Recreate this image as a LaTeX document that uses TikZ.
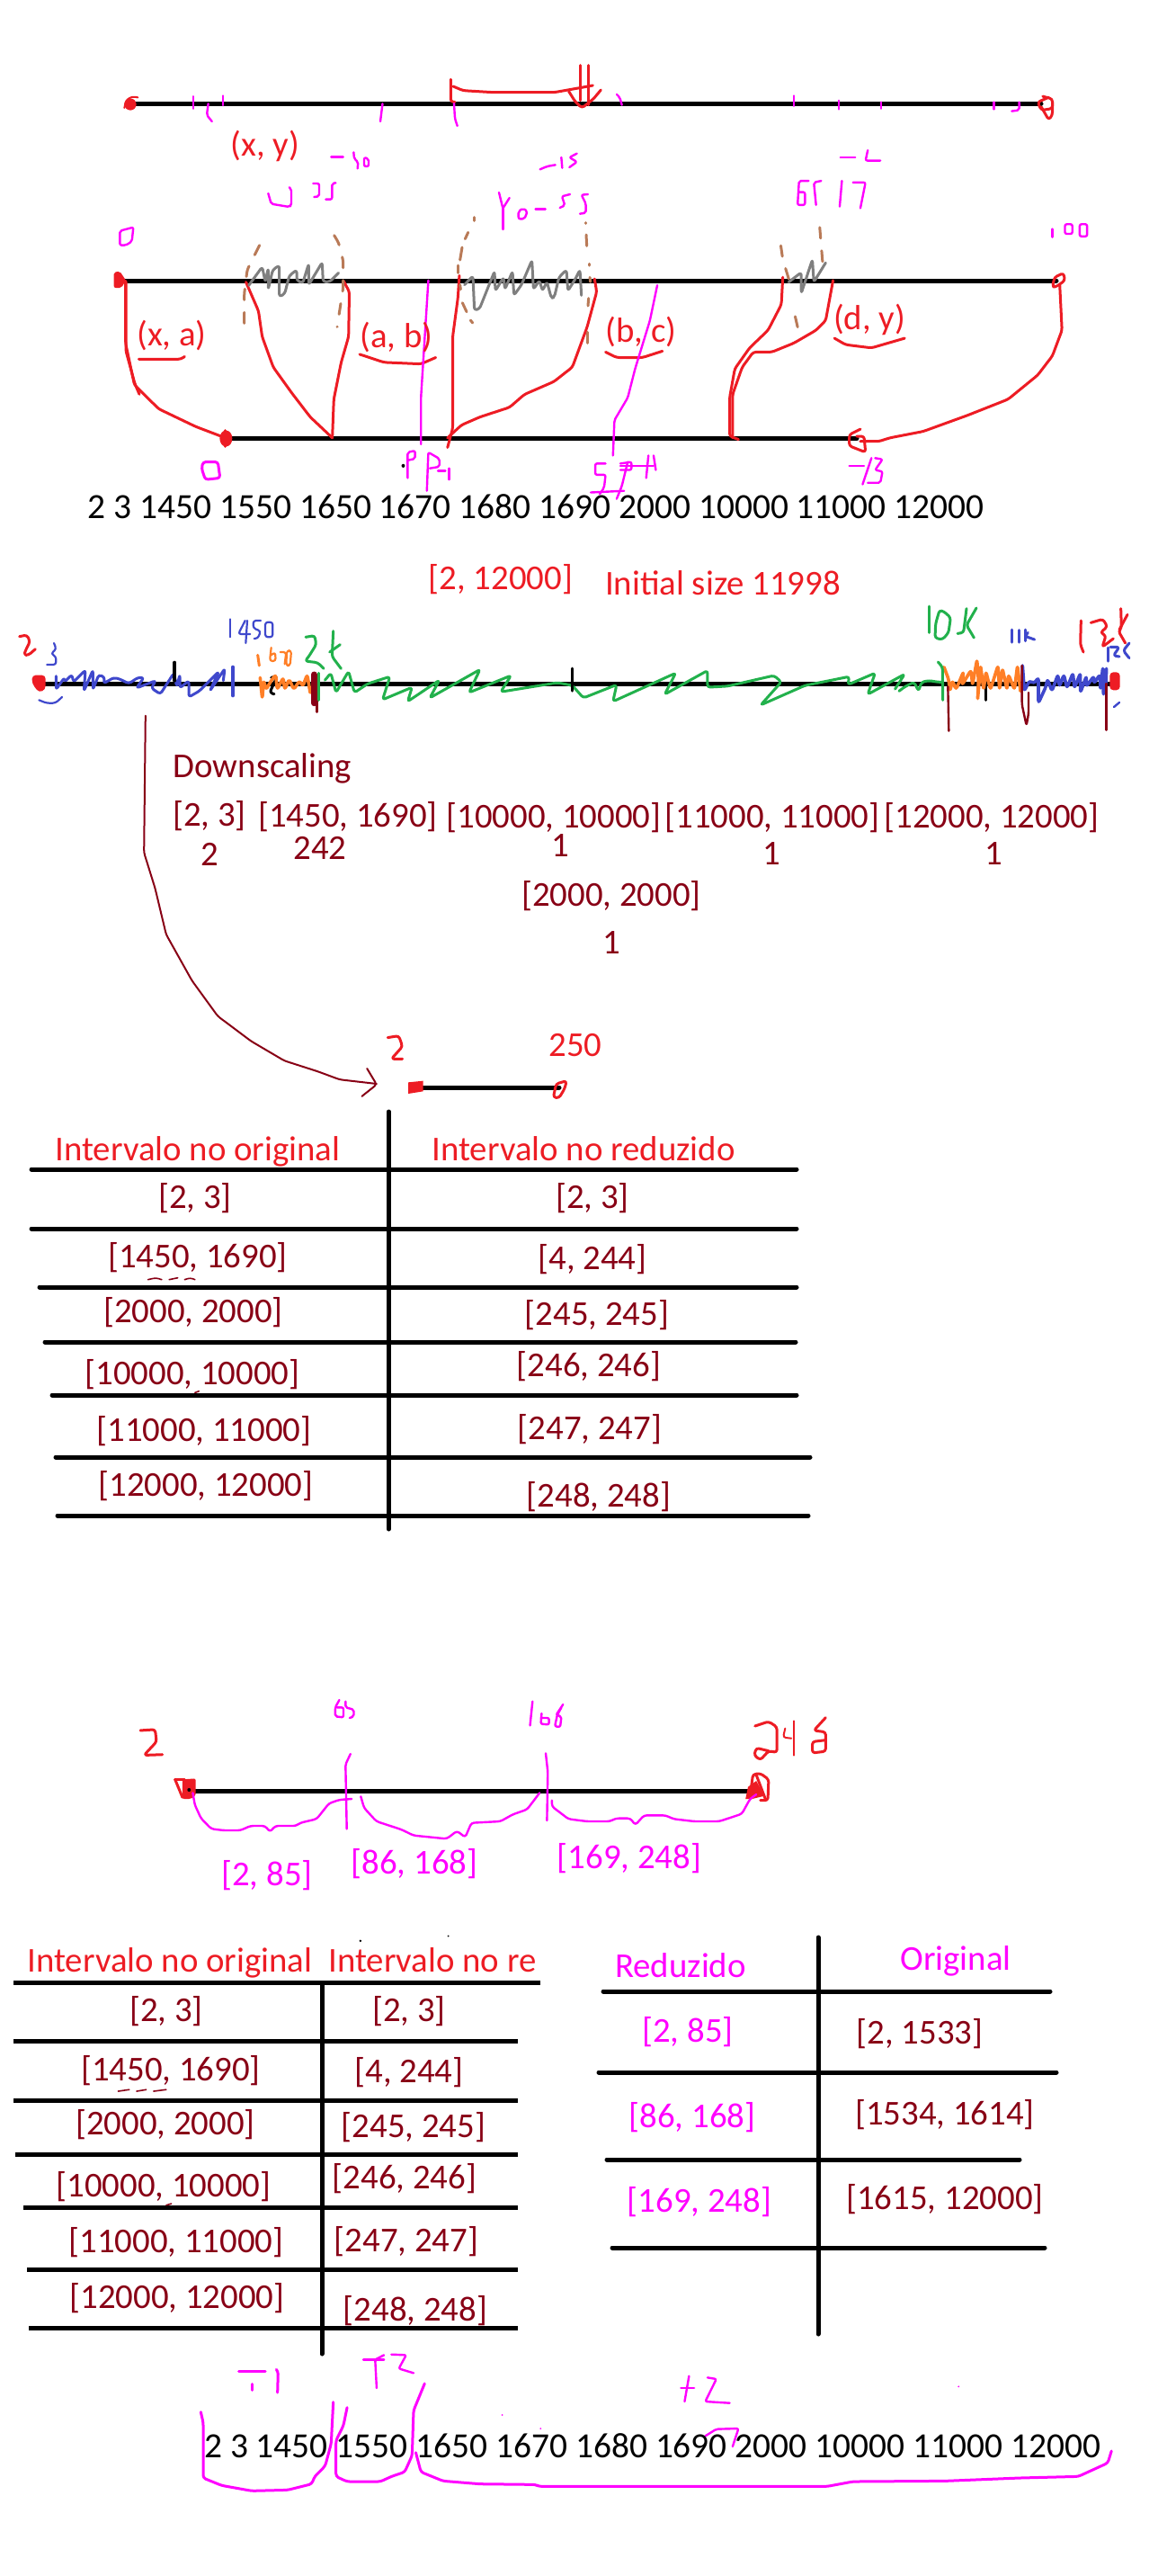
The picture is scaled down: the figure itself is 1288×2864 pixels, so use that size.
\documentclass[tikz,border=0pt]{standalone}
\usepackage{fontspec}
\setmainfont{Carlito}
\definecolor{pred}{HTML}{ED1C24}
\definecolor{pdark}{HTML}{880015}
\definecolor{pmag}{HTML}{FF00FF}
\definecolor{porange}{HTML}{FF7F27}
\definecolor{pgreen}{HTML}{22B14C}
\definecolor{pblue}{HTML}{3F48CC}
\definecolor{pbrown}{HTML}{B97A57}
\definecolor{pgray}{HTML}{7F7F7F}
\tikzset{
  px/.style={x=0.5pt,y=-0.5pt},
  za/.style={x=0.41071pt,y=-0.17857pt,yshift=-30pt},
  zb/.style={x=0.41071pt,y=-0.19771pt,yshift=-300pt},
  zc/.style={x=0.31888pt,y=-0.16667pt,yshift=-600pt},
  zd/.style={x=0.41071pt,y=-0.17857pt,yshift=-920pt},
  ze/.style={x=0.41071pt,y=-0.16667pt,yshift=-1190pt},
  zr/.style={x=0.22957pt,y=-0.16667pt,xshift=90pt,yshift=-945pt},
  zs/.style={x=0.16667pt,y=-0.16667pt},
  ink/.style={line cap=round,line join=round,line width=1.5pt,rounded corners=1.5pt},
  rd/.style={ink,draw=pred},
  mg/.style={ink,draw=pmag},
  mgt/.style={ink,draw=pmag,line width=1.2pt,rounded corners=1pt},
  bl/.style={ink,draw=pblue},
  gn/.style={ink,draw=pgreen},
  og/.style={ink,draw=porange},
  dk/.style={ink,draw=pdark},
  gy/.style={ink,draw=pgray},
  br/.style={ink,draw=pbrown,dash pattern=on 6pt off 7pt},
  rule/.style={line width=2.5pt,draw=black,line cap=round},
  lab/.style={anchor=base,inner sep=0pt,font=\fontsize{19.4}{22}\selectfont},
  tred/.style={lab,text=pred},
  tdk/.style={lab,text=pdark},
  tmg/.style={lab,text=pmag},
  tbk/.style={lab,text=black,font=\fontsize{19.7}{22}\selectfont},
}
\begin{document}
\begin{tikzpicture}[px]
\useasboundingbox (0,0) rectangle (1288,2864);
% ---------- main bars and table rules
\coordinate (a1) at (146,115); \coordinate (a2) at (1158,115);
\coordinate (b1) at (131,312); \coordinate (b2) at (1175,312);
\coordinate (c1) at (251,487.5); \coordinate (c2) at (953,487.5);
\coordinate (d1) at (43,760); \coordinate (d2) at (1240,760);
\coordinate (e1) at (459,1209); \coordinate (e2) at (622,1209);
\coordinate (f1) at (209,1991); \coordinate (f2) at (838,1991);
\draw[rule] (a1)--(a2); \draw[rule] (b1)--(b2); \draw[rule] (c1)--(c2);
\draw[rule] (d1)--(d2); \draw[rule] (e1)--(e2); \draw[rule] (f1)--(f2);
% table 1
\foreach \xa/\xb/\yy in {35/886/1300,35/886/1366,44/886/1431,50/885/1492,58/886/1551,62/901/1620,64/899/1685}
  \draw[rule] (\xa,\yy)--(\xb,\yy);
\draw[rule] (432.3,1236)--(432.3,1700);
% table 2
\draw[rule,line cap=butt] (15,2204)--(601,2204);
\foreach \xa/\yy in {15/2269,15/2335,17/2395,26/2454,30/2523,32/2588}
  \draw[rule,line cap=butt] (\xa,\yy)--(576,\yy);
\draw[rule] (358,2206)--(358,2617);
% table 3
\foreach \xa/\xb/\yy in {671/1168/2214,666/1175/2304,675/1134/2401,681/1162/2499}
  \draw[rule] (\xa,\yy)--(\xb,\yy);
\draw[rule] (910,2154)--(910,2595);

% ---------- first sketch (zoom A coordinates)
\begin{scope}[za]
\draw[rd] (1420,135)--(1405,150)--(1410,175)--(1425,170)--(1425,140)--(1412,132);
\draw[rd] (1410,165)--(1420,205)--(1425,190)--(1425,150);
\foreach \xa/\ya/\yb in {262/132/170,302/130/160,1075/130/162,1136/145/172,1193/150/170,1346/150/172}
  \draw[mgt] (\xa,\ya)--(\xa,\yb);
\draw[mgt] (282,155)--(280,190)--(287,210);
\draw[mgt] (518,155)--(515,210);
\draw[mgt] (1380,150)--(1380,175)--(1370,178);
% curves
\draw[rd] (333,710)--(350,800)--(355,880)--(370,975)--(395,1055)--(420,1130)--(450,1195);
\draw[rd] (465,706)--(473,740)--(472,880)--(462,960)--(452,1075)--(450,1195);
\draw[rd] (622,690)--(620,760)--(613,880)--(613,1165)--(606,1225);
\draw[rd] (805,700)--(808,740)--(795,850)--(775,975)--(750,1020)--(710,1060)--(690,1100)--(650,1130)--(625,1155)--(606,1195);
\draw[rd] (1060,695)--(1058,780)--(1040,860)--(1015,915)--(995,980)--(988,1070)--(988,1190)--(1000,1200);
\draw[rd] (1128,705)--(1118,830)--(1105,860)--(1075,900)--(1045,928)--(1020,928)--(1005,975)--(992,1060)--(992,1195);
\draw[rd] (1435,720)--(1438,860)--(1425,940)--(1405,1000)--(1365,1075)--(1310,1125)--(1250,1175)--(1205,1195)--(1190,1206)--(1165,1206);
\draw[rd] (170,706)--(170,900)--(182,1030)--(215,1105)--(265,1160)--(305,1195);
\draw[rd] (1425,725)--(1428,695)--(1440,682)--(1442,705)--(1430,725)--cycle;
\fill[pred] (306,1197) ellipse[x radius=3.5pt,y radius=4.5pt];
\draw[rd,line width=1.4pt] (305,1172)--(305,1222);
\draw[rd] (1165,1168)--(1150,1185)--(1150,1220)--(1172,1240)--(1170,1190)--(1160,1190);
\draw[rd] (188,950)--(245,950)--(250,942);
\draw[rd] (487,935)--(520,960)--(570,965)--(590,945);
\draw[rd] (820,928)--(835,945)--(870,945)--(897,925);
\draw[rd] (1130,885)--(1145,905)--(1180,915)--(1225,885);
% magenta long strokes
\draw[mgt] (580,705)--(570,1070)--(570,1215);
\draw[mgt] (890,720)--(880,830)--(860,980)--(850,1070)--(832,1140)--(830,1250);
% handwritten magenta labels
\draw[mgt] (1095,395)--(1082,395)--(1080,470)--(1090,470)--(1090,430)--(1082,430);
\draw[mgt] (1112,395)--(1102,400)--(1105,470); \draw[mgt] (1140,395)--(1137,475);
\draw[mgt] (1155,400)--(1172,400)--(1165,480);
\draw[mgt] (1138,322)--(1158,322); \draw[mgt] (1175,300)--(1172,332)--(1192,332);
\draw[mgt] (1425,545)--(1425,570); \draw[mgt] (1442,530)--(1442,560)--(1452,560)--(1452,530)--cycle;
\draw[mgt] (1462,530)--(1462,568)--(1472,568)--(1472,530)--cycle;
\draw[mg] (275,1270)--(295,1270)--(298,1320)--(278,1325)--(273,1290)--cycle;
\draw[mgt] (552,1320)--(552,1240)--(562,1235)--(562,1260)--(552,1265);
\fill (546,1282) circle[radius=1pt];
\draw[mgt] (578,1360)--(580,1240)--(595,1260)--(595,1285)--(582,1290);
\draw[mgt] (593,1298)--(603,1298); \draw[mgt] (608,1290)--(608,1325);
\draw[mgt] (820,1275)--(806,1275)--(806,1310)--(820,1310)--(818,1350)--(812,1370);
\draw[mgt] (800,1365)--(845,1360); \draw[mgt] (850,1270)--(842,1345)--(835,1385);
\draw[mgt] (840,1275)--(855,1270)--(855,1295)--(840,1295); \draw[mgt] (840,1282)--(885,1282);
\draw[mgt] (875,1320)--(878,1250); \draw[mgt] (885,1250)--(888,1295);
\draw[mgt] (1150,1282)--(1170,1282); \draw[mgt] (1180,1258)--(1168,1340);
\draw[mgt] (1185,1258)--(1195,1262)--(1185,1295)--(1195,1300)--(1192,1335)--(1175,1335);
% brown and gray clusters
\draw[br] (795,900)--(795,860);
\draw[br] (1080,850)--(1075,800); \draw[br] (1068,700)--(1060,640)--(1055,560);
\draw[br] (1110,540)--(1115,680);
\draw[gy] (1068,710)--(1085,680)--(1085,745)--(1100,640)--(1102,710)--(1118,650);
\end{scope}
% bracket, tick marks and cluster at the middle of the first sketch
\begin{scope}[zs,xshift=240pt,yshift=-30pt]
\draw[rd] (64,85)--(64,160)--(78,160);
\draw[rd] (72,108)--(105,122)--(205,128)--(410,128)--(500,112)--(538,105);
\draw[rd] (496,38)--(496,155); \draw[rd] (523,38)--(523,170);
\draw[rd] (458,125)--(480,160)--(502,180)--(540,150)--(565,120);
\draw[mgt] (75,165)--(78,215)--(86,240);
\draw[mgt] (618,135)--(628,145)--(635,170);
\draw[mgt] (362,385)--(385,375)--(413,370); \draw[mgt] (433,345)--(436,380);
\draw[mgt] (485,332)--(460,345)--(485,360)--(460,378);
\draw[mgt] (225,462)--(238,515)--(260,480); \draw[mgt] (238,515)--(238,585);
\draw[mgt] (305,515)--(290,525)--(290,550)--(310,550)--(320,525)--cycle;
\draw[mgt] (347,518)--(380,518);
\draw[mgt] (462,468)--(435,475)--(440,490)--(445,505)--(428,513);
\draw[mgt] (522,468)--(500,470)--(515,500)--(515,530)--(495,533);
\foreach \xa/\ya/\xb/\yb in {143/545/143/556,122/595/112/617,102/645/95/687,89/705/89/730,95/770/97/785,103/830/117/860,130/888/137/897,513/563/513/565,516/603/518/640,526/700/526/705,528/745/530/760,524/815/522/840}
  \draw[ink,draw=pbrown] (\xa,\ya)--(\xb,\yb);
\draw[gy] (110,770)--(138,740)--(143,855)--(160,850)--(210,725)--(213,790)--(240,745)--(245,785)--(270,725)--(275,805)--(300,770)--(335,688)--(340,785)--(360,755)--(370,790)--(385,760)--(400,815)--(410,810)--(425,745)--(450,720)--(455,790)--(480,750)--(495,720)--(500,805);
\end{scope}
% details in finer coordinates
\begin{scope}[zs,xshift=50pt,yshift=-40pt]
\fill[pred] (135,108) circle[radius=3.3pt];
\draw[rd,line width=1pt] (115,120)--(120,95)--(140,82)--(160,85);
\fill[pred,rounded corners=1pt] (80,668)--(100,665)--(120,695)--(105,720)--(80,720)--cycle;
\draw[rd] (120,700)--(120,930)--(150,1040)--(165,1075);
\draw[br] (515,838)--(515,740)--(525,660)--(550,610)--(575,560);
\draw[br] (815,545)--(830,570)--(845,630)--(845,720)--(825,850);
\draw[gy] (530,712)--(575,650)--(585,700)--(595,655)--(595,725)--(610,660)--(632,645)--(632,750)--(650,740)--(665,680)--(690,660)--(690,695)--(710,705)--(730,640)--(730,710)--(775,635)--(778,700)--(800,700)--(830,670);
\draw[mgt] (805,283)--(845,283);
\draw[mgt] (880,268)--(882,290)--(895,300)--(893,322);
\draw[mgt] (915,285)--(915,315)--(930,315)--(930,290)--cycle;
\draw[mgt] (595,405)--(605,440)--(665,450)--(672,445)--(672,390)--(665,385);
\draw[mgt] (745,372)--(765,372)--(765,415)--(748,417);
\draw[mgt] (820,370)--(808,372)--(808,425)--(787,425);
\draw[mgt] (100,530)--(145,518)--(140,565)--(120,578)--(100,578)--cycle;
\end{scope}

% ---------- second sketch (zoom B coordinates)
\begin{scope}[zb]
\draw[gn] (440,395)--(448,375)--(455,430)--(472,370)--(480,430)--(498,405)--(528,385)--(518,450)--(558,415)--(552,455)--(595,395)--(582,445)--(650,365)--(635,430)--(692,382)--(678,428)--(755,402)--(775,410)--(790,445)--(835,408)--(830,455)--(915,375)--(900,435)--(958,368)--(958,415)--(985,412)--(1048,382)--(1058,400)--(1030,465)--(1090,410)--(1150,385)--(1148,408)--(1185,375)--(1175,435)--(1225,378)--(1212,420);
\draw[ink,draw=black] (775,362)--(775,425);
% long arrow
\draw[dk,line width=1pt] (197,495)--(195,880)--(210,980)--(225,1110)--(260,1240)--(295,1340)--(340,1410)--(385,1465)--(430,1495)--(460,1518)--(510,1530);
\draw[dk,line width=1pt] (497,1487)--(510,1532)--(490,1565);
\draw[rd] (525,1400)--(540,1395)--(545,1425)--(530,1460)--(545,1460);
\end{scope}
% right end of the second sketch
\begin{scope}[zs,xshift=500pt,yshift=-330pt]
\draw[gn] (0,325)--(20,310)--(50,295)--(65,325)--(75,295)--(100,290)--(130,295)--(145,295);
\draw[ink,draw=black] (290,285)--(290,355);
\draw[og,line width=1.8pt] (150,245)--(165,285)--(170,325)--(178,290)--(190,320)--(215,260)--(210,305)--(240,255)--(245,305)--(260,220)--(265,290)--(262,355)--(272,240)--(282,320)--(290,260)--(305,320)--(330,240)--(335,320)--(345,250)--(360,320)--(365,270)--(385,320)--(395,240)--(405,325);
\draw[gn] (130,228)--(145,245)--(146,355);
\draw[dk,line width=1.2pt] (163,310)--(166,458);
\draw[bl,line width=1.8pt] (412,240)--(418,325)--(435,290)--(450,300)--(465,280)--(465,365)--(490,310)--(495,285)--(510,325)--(530,270)--(535,310)--(550,270)--(560,315)--(580,265)--(585,315)--(605,265)--(605,330)--(625,275)--(625,310)--(650,275)--(650,300)--(670,270)--(672,320)--(680,245)--(682,340)--(692,245)--(690,310);
\draw[dk,line width=1.2pt] (410,240)--(410,370)--(425,440)--(432,400)--(432,330);
\draw[dk,line width=1.2pt] (692,300)--(692,455);
\fill[pred,rounded corners=2pt] (703,262) rectangle (737,322);
\draw[bl,line width=1.2pt] (717,378)--(735,363);
\draw[gn] (100,42)--(100,130);
\draw[gn] (135,55)--(122,100)--(120,148)--(145,153)--(165,130)--(172,80)--(150,60)--cycle;
\draw[gn] (225,50)--(215,130)--(195,133); \draw[gn] (258,48)--(225,105)--(250,147);
\draw[bl] (377,120)--(377,162); \draw[bl] (400,122)--(400,162);
\draw[bl] (420,120)--(420,158); \draw[bl] (430,130)--(420,142)--(452,153);
\draw[rd] (607,90)--(605,170)--(615,195);
\draw[rd] (640,97)--(680,85)--(695,110)--(672,130)--(690,140)--(678,178)--(715,150);
\draw[rd] (740,50)--(742,115)--(732,125)--(755,165); \draw[rd] (762,70)--(735,120);
\draw[bl] (697,180)--(697,225); \draw[bl] (705,178)--(735,178)--(715,207)--(735,210);
\draw[bl] (768,165)--(748,190)--(768,215);
\end{scope}
\begin{scope}[zs,yshift=-330pt]
\fill[pred,rounded corners=2pt] (107,272)--(152,272)--(152,320)--(130,330)--(107,300)--cycle;
\draw[bl] (187,275)--(187,320)--(215,280)--(215,295)--(240,270)--(245,295)--(285,255)--(280,325)--(310,255)--(310,320)--(330,270)--(350,280)--(345,300)--(380,280)--(400,285)--(430,300)--(460,280)--(480,280)--(455,315)--(520,290)--(505,315)--(535,335)--(580,265)--(590,310)--(600,270)--(600,315)--(630,290)--(630,345)--(665,325)--(730,260)--(700,325)--(750,250)--(745,290);
\draw[ink,draw=pblue,line width=2pt] (777,245)--(777,340);
\draw[bl,line width=1.1pt] (180,165)--(188,185)--(170,200)--(187,210)--(187,237)--(157,237);
\draw[bl,line width=1.1pt] (130,355)--(155,365)--(185,365)--(207,345);
\draw[bl,line width=1.1pt] (768,85)--(768,145);
\draw[bl,line width=1.1pt] (818,90)--(795,135)--(835,135); \draw[bl,line width=1.1pt] (825,90)--(820,165);
\draw[bl,line width=1.1pt] (870,90)--(845,90)--(845,115)--(870,125)--(860,150)--(848,150);
\draw[bl,line width=1.1pt] (885,95)--(910,95)--(910,145)--(885,145)--cycle;
\draw[rd] (65,143)--(90,138)--(100,160)--(85,190)--(80,205)--(95,205)--(118,185);
\draw[ink,draw=black,line width=2pt] (583,230)--(583,290);
\draw[ink,draw=black] (905,280)--(925,275)--(900,330)--(915,335);
\draw[og] (860,205)--(865,240);
\draw[og,line width=1.1pt] (905,180)--(900,225)--(920,225)--(918,195)--(905,205);
\draw[og,line width=1.1pt] (935,195)--(955,195)--(950,235);
\draw[og,line width=1.1pt] (957,190)--(972,190)--(968,240)--(955,240)--cycle;
\draw[og,line width=1.8pt] (868,280)--(875,350)--(880,290)--(888,320)--(905,290)--(920,270)--(925,320)--(945,280)--(950,320)--(965,285)--(980,320)--(1000,290)--(1010,310)--(1025,270)--(1035,330);
\draw[ink,draw=pdark,line width=3.5pt] (1048,270)--(1048,365);
\draw[ink,draw=pdark,line width=1.2pt] (1058,320)--(1058,395);
\draw[gn] (1062,265)--(1062,355);
\draw[gn] (1020,145)--(1050,140)--(1055,170)--(1030,210)--(1018,225)--(1060,230)--(1080,250);
\draw[gn] (1112,125)--(1108,210)--(1138,250); \draw[gn] (1135,170)--(1100,195);
\end{scope}

% ---------- small line ends and table fragments (zoom C coordinates)
\begin{scope}[zc]
\fill[pred] (712,10)--(738,5)--(738,40)--(712,48)--cycle;
\draw[rd] (965,60)--(970,15)--(988,5)--(985,30)--(975,62)--cycle;
\draw[dk,line width=0.8pt] (258,668)--(272,662)--(282,668);
\draw[dk,line width=0.8pt] (295,668)--(310,662);
\draw[dk,line width=0.8pt] (322,668)--(332,662)--(340,668);
\draw[dk,line width=0.8pt] (340,1045)--(347,1040);
\end{scope}

% ---------- third sketch
\begin{scope}[zd]
\draw[rd] (190,235)--(210,232)--(212,270)--(195,312)--(220,310);
\draw[rd] (1118,195)--(1102,235)--(1118,240)--(1118,300)--(1100,305)--(1100,270)--(1118,265);
\draw[dk,line width=0.8pt] (160,1358)--(175,1353); \draw[dk,line width=0.8pt] (185,1358)--(198,1353);
\draw[dk,line width=0.8pt] (208,1358)--(225,1353);
\fill (488,890) circle[radius=0.7pt]; \fill (607,875) circle[radius=0.5pt];
\end{scope}
\begin{scope}[zr]
\fill[pred,rounded corners=1pt] (50,265)--(82,262)--(82,320)--(70,330)--(50,330)--cycle;
\draw[rd] (32,265)--(50,325);
\draw[rd] (32,265)--(55,265);
\fill (66,300) circle[radius=1pt];
\fill[pred] (1420,290)--(1440,270)--(1460,320)--(1430,330)--(1414,330)--cycle;
\draw[rd] (1428,290)--(1432,248)--(1450,245)--(1470,265)--(1468,335)--(1450,335);
\draw[rd] (1440,250)--(1462,330);
\draw[mg,line width=1.2pt] (75,310)--(80,350)--(95,395)--(120,430)--(150,435)--(190,435)--(215,420)--(250,420)--(262,440)--(275,420)--(325,420)--(335,410)--(375,397)--(405,345)--(430,333)--(460,330);
\draw[mgt] (457,180)--(445,215)--(448,430);
\draw[mg,line width=1.2pt] (482,322)--(490,360)--(520,405)--(580,432)--(610,452)--(690,463)--(715,437)--(735,458)--(750,410)--(820,405)--(850,382)--(885,365)--(915,310);
\draw[mgt] (930,178)--(935,240)--(933,402);
\draw[mg,line width=1.2pt] (945,335)--(945,355)--(985,397)--(1030,405)--(1085,405)--(1100,395)--(1135,395)--(1147,417)--(1168,385)--(1220,385)--(1240,397)--(1290,405)--(1350,405)--(1405,380)--(1425,330)--(1440,315);
\draw[mgt] (430,0)--(420,25)--(420,55)--(440,58)--(440,25)--(425,25);
\draw[mgt] (445,5)--(445,25)--(465,32)--(465,55)--(455,60);
\draw[mgt] (898,5)--(892,85);
\draw[mgt] (920,45)--(918,80)--(938,82)--(938,60)--(918,60);
\draw[mgt] (972,15)--(955,50)--(968,55)--(965,90)--(952,88)--(958,50)--(968,25);
\draw[rd] (1437,87)--(1470,72)--(1490,90)--(1490,175)--(1470,170)--(1450,200)--(1435,185)--(1440,160)--(1470,170);
\draw[rd,line width=1pt] (1510,95)--(1505,125)--(1525,128);
\draw[rd,line width=1pt] (1532,70)--(1532,185);
\end{scope}

% ---------- bottom row braces
\begin{scope}[ze]
\draw[mg] (470,890)--(465,950)--(455,1000)--(455,1120)--(470,1137)--(515,1137)--(530,1120)--(548,1105)--(558,1050)--(560,900)--(575,810);
\draw[mg] (563,1040)--(570,1105)--(600,1135)--(650,1145)--(725,1147)--(730,1153)--(1120,1153)--(1155,1137)--(1280,1135)--(1380,1125)--(1460,1120)--(1500,1075)--(1505,1035);
\draw[mgt] (492,730)--(520,730); \draw[mgt] (520,715)--(508,730)--(510,825);
\draw[mgt] (530,713)--(550,715)--(540,760)--(560,775);
\draw[mgt] (922,825)--(940,825); \draw[mgt] (933,785)--(927,870);
\draw[mgt] (958,790)--(970,795)--(955,870)--(988,875);
\draw[mgt] (955,985)--(970,962)--(1000,960)--(992,1020);
\fill[pmag] (680,915) circle[radius=.5pt]; \fill[pmag] (732,960) circle[radius=.5pt]; \fill[pmag] (1298,820) circle[radius=.5pt];
\end{scope}
\begin{scope}[zs,yshift=-1200pt]
\draw[mg] (670,845)--(678,880)--(678,1065)--(740,1090)--(840,1108)--(960,1105)--(1040,1085)--(1050,1060)--(1085,1025)--(1105,950)--(1112,812);
\draw[mg] (797,708)--(885,708); \draw[mg] (841,752)--(841,772); \draw[mg] (922,703)--(928,710)--(926,780);
\draw[dk,line width=0.8pt] (555,155)--(572,150);
\end{scope}

% ---------- texts
\node[tred] (t01) at (295,173) {(x, y)};
\node[tred] (t02) at (191,384) {(x, a)};
\node[tred] (t03) at (441,386) {(a, b)};
\node[tred] (t04) at (713,380) {(b, c)};
\node[tred] (t05) at (967,366) {(d, y)};
\node[tbk]  (t06) at (596,576) {2 3 1450 1550 1650 1670 1680 1690 2000 10000 11000 12000};
\node[tred] (t07) at (557,655) {[2, 12000]};
\node[tred] (t08) at (804,661) {Initial size 11998};
\node[tdk]  (t09) at (292,864) {Downscaling};
\node[tdk]  (t10) at (233,918) {[2, 3]};
\node[tdk]  (t11) at (387,919) {[1450, 1690]};
\node[tdk]  (t12) at (616,920) {[10000, 10000]};
\node[tdk]  (t13) at (859,920) {[11000, 11000]};
\node[tdk]  (t14) at (1103,920) {[12000, 12000]};
\node[tdk]  (t15) at (233,962) {2};
\node[tdk]  (t16) at (356,955) {242};
\node[tdk]  (t17) at (623,952) {1};
\node[tdk]  (t18) at (858,961) {1};
\node[tdk]  (t19) at (1105,961) {1};
\node[tdk]  (t20) at (680,1007) {[2000, 2000]};
\node[tdk]  (t21) at (680,1060) {1};
\node[tred] (t22) at (640,1174) {250};
% table 1 texts
\node[tred] (u01) at (220,1290) {Intervalo no original};
\node[tred] (u02) at (649,1290) {Intervalo no reduzido};
\node[tdk] (u03) at (217,1343) {[2, 3]};
\node[tdk] (u04) at (220,1409) {[1450, 1690]};
\node[tdk] (u05) at (215,1470) {[2000, 2000]};
\node[tdk] (u06) at (214,1539) {[10000, 10000]};
\node[tdk] (u07) at (227,1602) {[11000, 11000]};
\node[tdk] (u08) at (229,1663) {[12000, 12000]};
\node[tdk] (u09) at (659,1343) {[2, 3]};
\node[tdk] (u10) at (659,1411) {[4, 244]};
\node[tdk] (u11) at (664,1473) {[245, 245]};
\node[tdk] (u12) at (655,1530) {[246, 246]};
\node[tdk] (u13) at (656,1600) {[247, 247]};
\node[tdk] (u14) at (666,1675) {[248, 248]};
% third sketch labels
\node[tmg] (v01) at (297,2096) {[2, 85]};
\node[tmg] (v02) at (461,2083) {[86, 168]};
\node[tmg] (v03) at (700,2077) {[169, 248]};
% table 2 texts
\node[tred] (w01) at (189,2192) {Intervalo no original};
\node[tred,anchor=base west] (w02) at (365,2192) {Intervalo no re};
\node[tdk] (w03) at (185,2247) {[2, 3]};
\node[tdk] (w04) at (190,2313) {[1450, 1690]};
\node[tdk] (w05) at (184,2373) {[2000, 2000]};
\node[tdk] (w06) at (182,2442) {[10000, 10000]};
\node[tdk] (w07) at (196,2504) {[11000, 11000]};
\node[tdk] (w08) at (197,2566) {[12000, 12000]};
\node[tdk] (w09) at (455,2247) {[2, 3]};
\node[tdk] (w10) at (455,2315) {[4, 244]};
\node[tdk] (w11) at (460,2376) {[245, 245]};
\node[tdk] (w12) at (450,2433) {[246, 246]};
\node[tdk] (w13) at (452,2503) {[247, 247]};
\node[tdk] (w14) at (462,2580) {[248, 248]};
% table 3 texts
\node[tmg] (y01) at (757,2198) {Reduzido};
\node[tmg] (y02) at (1063,2190) {Original};
\node[tmg] (y03) at (765,2270) {[2, 85]};
\node[tdk] (y04) at (1023,2272) {[2, 1533]};
\node[tmg] (y05) at (770,2365) {[86, 168]};
\node[tdk] (y06) at (1051,2362) {[1534, 1614]};
\node[tmg] (y07) at (778,2459) {[169, 248]};
\node[tdk] (y08) at (1051,2456) {[1615, 12000]};
\node[tbk] (z01) at (725.5,2732) {2 3 1450 1550 1650 1670 1680 1690 2000 10000 11000 12000};
\end{tikzpicture}
\end{document}
